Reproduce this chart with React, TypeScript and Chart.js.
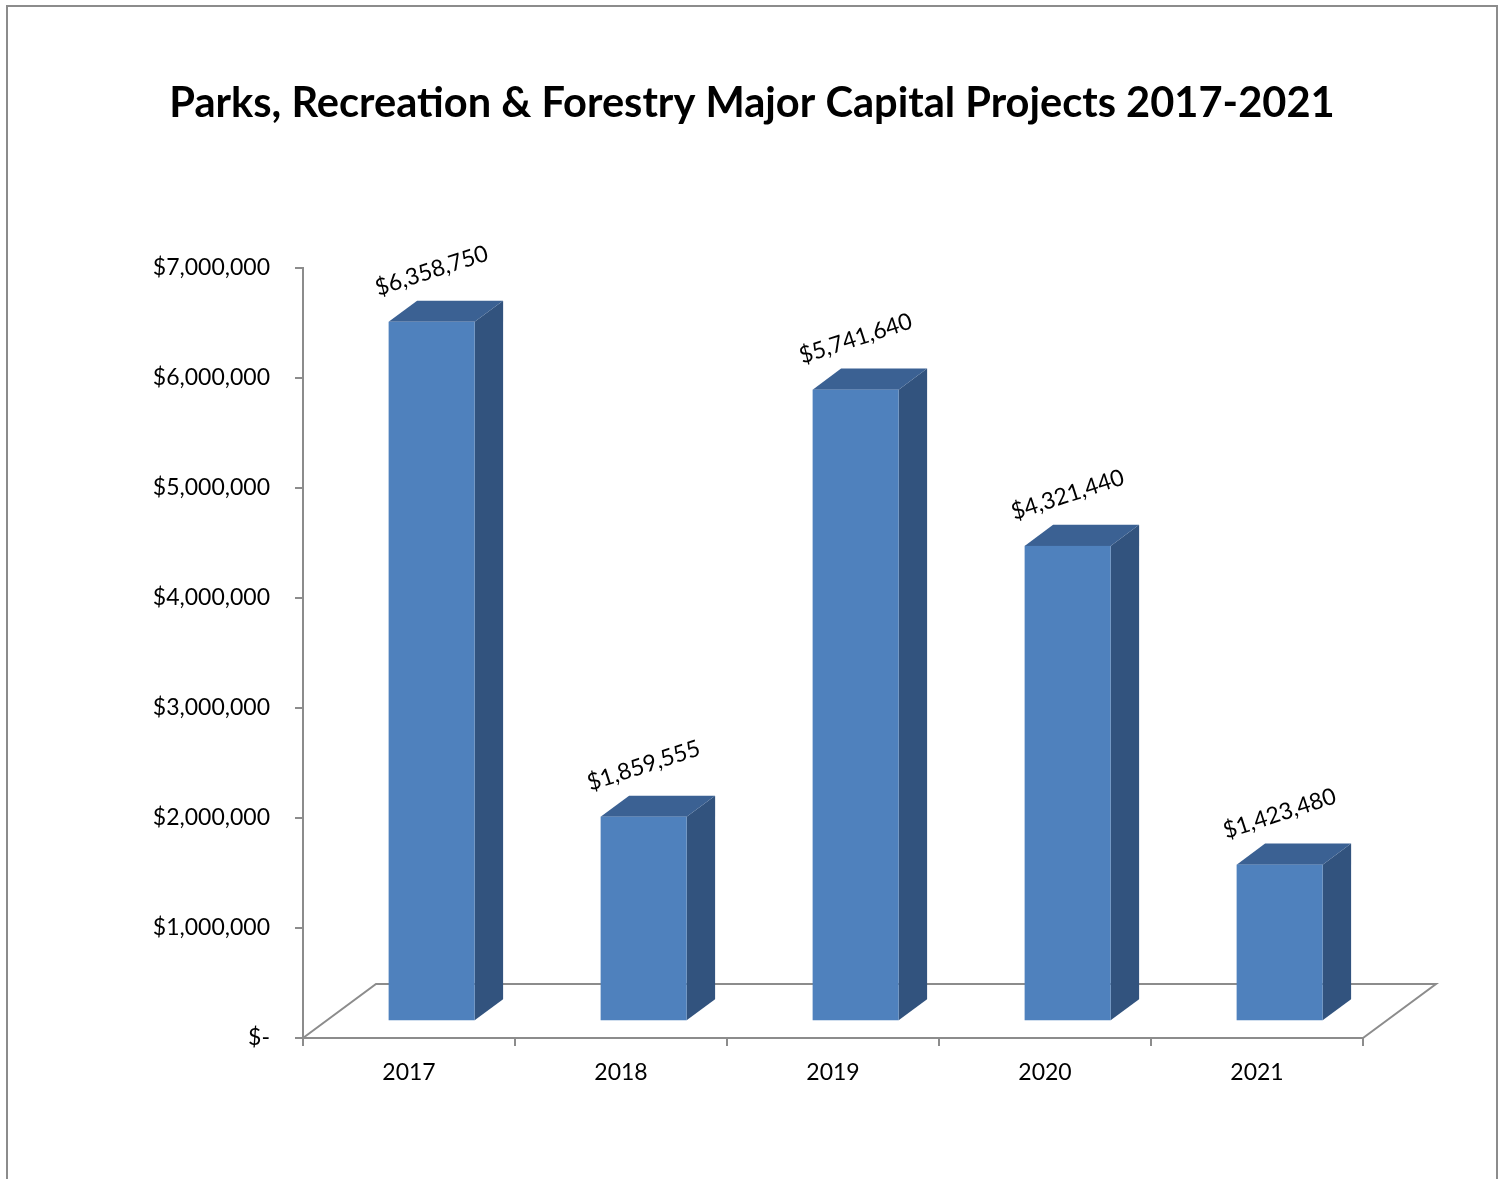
import React, { useEffect, useRef } from 'react';
import { Chart, registerables } from 'chart.js';

Chart.register(...registerables);

const TITLE = 'Parks, Recreation & Forestry Major Capital Projects 2017-2021';
const categories = ['2017', '2018', '2019', '2020', '2021'];
const values = [6358750, 1859555, 5741640, 4321440, 1423480];
const yMin = 0;
const yMax = 7000000;
const yStep = 1000000;

const FONT = 'Lato, "DejaVu Sans", sans-serif';
const GRAY = '#8c8c8c';
const FRONT = '#4f81bd';
const SIDE = '#32537e';
const TOP = '#3b6193';

// 3D projection: full floor depth vector and the bars' depth span
const DEPTH = { x: 73, y: -54 };
const BAR_FRONT = 0.31;
const BAR_BACK = 0.7;

const money = (v: number) => (v === 0 ? '$-' : '$' + v.toLocaleString('en-US'));

const excel3d = {
  id: 'excel3d',
  beforeDraw(chart: any) {
    const ctx = chart.ctx;
    ctx.save();
    ctx.fillStyle = '#ffffff';
    ctx.fillRect(0, 0, chart.width, chart.height);
    // outer border
    ctx.strokeStyle = GRAY;
    ctx.lineWidth = 2;
    ctx.beginPath();
    ctx.moveTo(7, chart.height + 4);
    ctx.lineTo(7, 6);
    ctx.lineTo(1497, 6);
    ctx.lineTo(1497, chart.height + 4);
    ctx.stroke();
    // title
    ctx.fillStyle = '#000';
    ctx.font = `bold 41.6px ${FONT}`;
    ctx.textAlign = 'center';
    ctx.textBaseline = 'middle';
    ctx.fillText(TITLE, 752, 104);
    // floor
    const { left, right, bottom } = chart.chartArea;
    ctx.strokeStyle = GRAY;
    ctx.lineWidth = 2;
    ctx.beginPath();
    ctx.moveTo(left, bottom);
    ctx.lineTo(left + DEPTH.x, bottom + DEPTH.y);
    ctx.lineTo(right + DEPTH.x, bottom + DEPTH.y);
    ctx.lineTo(right, bottom);
    ctx.stroke();
    ctx.restore();
  },
  afterDatasetsDraw(chart: any) {
    const ctx = chart.ctx;
    const meta = chart.getDatasetMeta(0);
    const fx = BAR_FRONT * DEPTH.x;
    const fy = BAR_FRONT * DEPTH.y;
    const dx = (BAR_BACK - BAR_FRONT) * DEPTH.x;
    const dy = (BAR_BACK - BAR_FRONT) * DEPTH.y;
    ctx.save();
    meta.data.forEach((bar: any, i: number) => {
      const { x, y, base, width } = bar.getProps(['x', 'y', 'base', 'width'], true);
      const l = x - width / 2 + fx;
      const r = x + width / 2 + fx;
      const t = y + fy;
      const b = base + fy;
      // side
      ctx.fillStyle = SIDE;
      ctx.beginPath();
      ctx.moveTo(r, t);
      ctx.lineTo(r + dx, t + dy);
      ctx.lineTo(r + dx, b + dy);
      ctx.lineTo(r, b);
      ctx.closePath();
      ctx.fill();
      // top
      ctx.fillStyle = TOP;
      ctx.beginPath();
      ctx.moveTo(l, t);
      ctx.lineTo(l + dx, t + dy);
      ctx.lineTo(r + dx, t + dy);
      ctx.lineTo(r, t);
      ctx.closePath();
      ctx.fill();
      // front
      ctx.fillStyle = FRONT;
      ctx.fillRect(l, t, r - l, b - t);
      // value label
      ctx.save();
      ctx.translate(x + fx, t - 51);
      ctx.rotate((-18 * Math.PI) / 180);
      ctx.fillStyle = '#000';
      ctx.font = `23px ${FONT}`;
      ctx.textAlign = 'center';
      ctx.textBaseline = 'middle';
      ctx.fillText(money(values[i]), 0, 0);
      ctx.restore();
    });
    ctx.restore();
  },
};

export default function App() {
  const ref = useRef<HTMLCanvasElement | null>(null);
  useEffect(() => {
    if (!ref.current) return;
    const chart = new Chart(ref.current, {
      type: 'bar',
      data: {
        labels: categories,
        datasets: [
          {
            data: values,
            backgroundColor: 'rgba(0,0,0,0)',
            borderWidth: 0,
            barPercentage: 0.4057,
            categoryPercentage: 1,
          },
        ],
      },
      options: {
        responsive: false,
        animation: false,
        devicePixelRatio: 1,
        layout: { padding: { top: 268, right: 142, left: 0, bottom: 0 } },
        plugins: { legend: { display: false }, tooltip: { enabled: false }, title: { display: false } },
        scales: {
          x: {
            grid: { drawOnChartArea: false, drawTicks: true, tickLength: 8, color: GRAY, lineWidth: 2, offset: true },
            border: { display: true, color: GRAY, width: 2 },
            ticks: { font: { family: FONT, size: 23 }, color: '#000', padding: 13 },
            afterFit: (s: any) => {
              s.height = 141;
            },
          },
          y: {
            min: yMin,
            max: yMax,
            grid: { drawOnChartArea: false, drawTicks: true, tickLength: 8, color: GRAY, lineWidth: 2 },
            border: { display: true, color: GRAY, width: 2 },
            ticks: {
              stepSize: yStep,
              font: { family: FONT, size: 23 },
              color: '#000',
              padding: 25,
              callback: (v: any) => money(Number(v)),
            },
            afterFit: (s: any) => {
              s.width = 303;
            },
          },
        },
      },
      plugins: [excel3d],
    });
    return () => chart.destroy();
  }, []);
  return (
    <div style={{ position: 'absolute', left: 0, top: 0, width: 1505, height: 1179 }}>
      <canvas ref={ref} width={1505} height={1179} style={{ display: 'block' }} />
    </div>
  );
}
